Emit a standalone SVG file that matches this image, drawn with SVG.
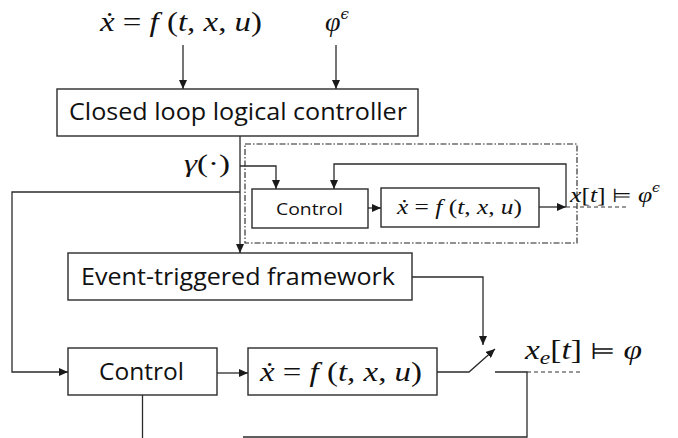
<svg xmlns="http://www.w3.org/2000/svg" width="678" height="438" viewBox="0 0 678 438">
<style>
.box{fill:#fff;stroke:#2b2b2b;stroke-width:1.4}
.ln{fill:none;stroke:#2b2b2b;stroke-width:1.3}
.dash{fill:none;stroke:#333;stroke-width:1.1;stroke-dasharray:4,3}
.dd{fill:none;stroke:#222;stroke-width:1.1;stroke-dasharray:6,2,1.5,2}
.lbl{font-family:"Open Sans","Noto Sans",sans-serif;fill:#111}
.m{font-family:"Liberation Serif","DejaVu Serif",serif;fill:#111}
.i{font-style:italic}
.eps{font-family:"DejaVu Serif",serif;font-style:italic}
</style>
<defs>
<marker id="ah" markerWidth="9" markerHeight="8" refX="9" refY="4" orient="auto" markerUnits="userSpaceOnUse">
<path d="M0,0 L9,4 L0,8 z" fill="#1a1a1a"/>
</marker>
</defs>

<g id="labels-top">
<text class="m" x="100" y="31" font-size="28" textLength="162" lengthAdjust="spacingAndGlyphs"><tspan class="i">ẋ</tspan> = <tspan class="i">f</tspan> (<tspan class="i">t</tspan>, <tspan class="i">x</tspan>, <tspan class="i">u</tspan>)</text>
<text class="m" x="325" y="31" font-size="28"><tspan class="i">φ</tspan><tspan class="eps" font-size="15" dy="-12">ϵ</tspan></text>
<text class="m" x="184" y="172" font-size="25" textLength="46" lengthAdjust="spacingAndGlyphs"><tspan class="i">γ</tspan>(·)</text>
</g>

<g id="closed-loop-controller">
<rect class="box" x="57" y="89" width="361" height="47"/>
<text class="lbl" x="69" y="120" font-size="23" textLength="338" lengthAdjust="spacingAndGlyphs">Closed loop logical controller</text>
</g>

<g id="inner-loop">
<rect class="dd" x="245" y="144" width="332" height="99"/>
</g>

<g id="inner-control">
<rect class="box" x="252" y="189" width="116" height="39"/>
<text class="lbl" x="276" y="215" font-size="17" textLength="67" lengthAdjust="spacingAndGlyphs">Control</text>
</g>

<g id="inner-plant">
<rect class="box" x="381" y="188" width="158" height="39"/>
<text class="m" x="397" y="214" font-size="22" textLength="125" lengthAdjust="spacingAndGlyphs"><tspan class="i">ẋ</tspan> = <tspan class="i">f</tspan> (<tspan class="i">t</tspan>, <tspan class="i">x</tspan>, <tspan class="i">u</tspan>)</text>
</g>

<g id="inner-output-label">
<text class="m" x="570" y="202" font-size="22" textLength="90" lengthAdjust="spacingAndGlyphs"><tspan class="i">x</tspan>[<tspan class="i">t</tspan>] <tspan font-family="DejaVu Sans" font-size="19">⊨</tspan> <tspan class="i">φ</tspan><tspan class="eps" font-size="12" dy="-10">ϵ</tspan></text>
</g>

<g id="event-triggered">
<rect class="box" x="68" y="253" width="344" height="47"/>
<text class="lbl" x="81" y="285" font-size="23" textLength="314" lengthAdjust="spacingAndGlyphs">Event-triggered framework</text>
</g>

<g id="control">
<rect class="box" x="68" y="348" width="149" height="47"/>
<text class="lbl" x="99" y="380" font-size="23" textLength="85" lengthAdjust="spacingAndGlyphs">Control</text>
</g>

<g id="plant">
<rect class="box" x="248" y="348" width="189" height="47"/>
<text class="m" x="260" y="381" font-size="27" textLength="162" lengthAdjust="spacingAndGlyphs"><tspan class="i">ẋ</tspan> = <tspan class="i">f</tspan> (<tspan class="i">t</tspan>, <tspan class="i">x</tspan>, <tspan class="i">u</tspan>)</text>
</g>

<g id="output-label">
<text class="m" x="525" y="359" font-size="27" textLength="117" lengthAdjust="spacingAndGlyphs"><tspan class="i">x</tspan><tspan class="i" font-size="19" dy="5">e</tspan><tspan dy="-5">[</tspan><tspan class="i">t</tspan>] <tspan font-family="DejaVu Sans" font-size="23">⊨</tspan> <tspan class="i">φ</tspan></text>
</g>

<g id="connectors">
<line class="ln" x1="183" y1="45" x2="183" y2="89" marker-end="url(#ah)"/>
<line class="ln" x1="336" y1="45" x2="336" y2="89" marker-end="url(#ah)"/>
<line class="ln" x1="240" y1="136" x2="240" y2="253" marker-end="url(#ah)"/>
<polyline class="ln" points="240,166 276,166 276,189" marker-end="url(#ah)"/>
<polyline class="ln" points="240,192 12,192 12,372 68,372" marker-end="url(#ah)"/>
<line class="ln" x1="368" y1="208" x2="381" y2="208" marker-end="url(#ah)"/>
<line class="ln" x1="539" y1="207" x2="566" y2="207" marker-end="url(#ah)"/>
<polyline class="ln" points="566,207 566,164 334,164 334,189" marker-end="url(#ah)"/>
<line class="dash" x1="566" y1="207" x2="627" y2="207"/>
<polyline class="ln" points="412,277 483,277 483,345" marker-end="url(#ah)"/>
<line class="ln" x1="217" y1="373" x2="248" y2="373" marker-end="url(#ah)"/>
<polyline class="ln" points="437,372 469,372 495,349" marker-end="url(#ah)"/>
<polyline class="ln" points="495,372 527,372 527,437 243,437"/>
<line class="ln" x1="142.5" y1="395" x2="142.5" y2="438"/>
<line class="dash" x1="527" y1="372" x2="583" y2="372"/>
</g>
</svg>
